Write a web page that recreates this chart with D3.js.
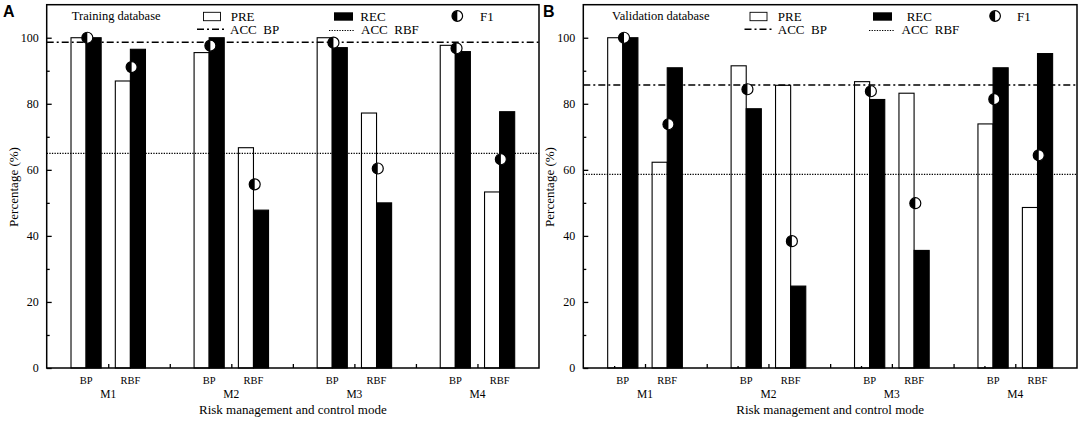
<!DOCTYPE html>
<html>
<head>
<meta charset="utf-8">
<script src="https://cdn.jsdelivr.net/npm/d3@7"></script>
<style>
  body { margin: 0; background: #fff; }
  svg { display: block; }
  text { font-family: "Liberation Serif", "Times New Roman", serif; fill: #000; }
</style>
</head>
<body>
<div id="chart"></div>
<script>
// 資料: 順序為 M1 BP, M1 RBF, M2 BP, M2 RBF, ...
const modes = ["M1", "M2", "M3", "M4"];
const models = ["BP", "RBF"];

const trainPRE = [100, 86.9, 95.5, 66.7, 100, 77.2, 97.7, 53.3];
const trainREC = [100, 96.5, 100, 47.8, 97.0, 50.0, 95.8, 77.6];
const trainF1 = [100, 91.1, 97.6, 55.6, 98.5, 60.4, 96.8, 63.2];
const trainACC = [98.6, 65.0]; // BP, RBF

const validPRE = [100, 62.3, 91.5, 85.6, 86.7, 83.2, 73.9, 48.6];
const validREC = [100, 90.9, 78.5, 24.8, 81.3, 35.6, 90.9, 95.2];
const validF1 = [100, 73.8, 84.4, 38.4, 83.8, 49.9, 81.4, 64.4];
const validACC = [85.7, 58.6];

const yTicks = [0, 20, 40, 60, 80, 100];
const yMinorTicks = [10, 30, 50, 70, 90];

const width = 1084;
const height = 421;

const svg = d3
  .select("#chart")
  .append("svg")
  .attr("width", width)
  .attr("height", height);

svg.append("rect").attr("width", width).attr("height", height).attr("fill", "#fff");

function drawF1Marker(g, cx, cy, r) {
  g.append("circle")
    .attr("cx", cx)
    .attr("cy", cy)
    .attr("r", r)
    .attr("fill", "#fff")
    .attr("stroke", "#000")
    .attr("stroke-width", 1.2);
  g.append("path")
    .attr("d", `M${cx},${cy - r} A${r},${r} 0 0,0 ${cx},${cy + r} Z`)
    .attr("fill", "#000");
}

function drawPanel(cfg) {
  const g = svg.append("g");
  const top = 4.7;
  const bottom = 368;
  const barW = 0.245;
  const off = 0.36;

  const x = d3.scaleLinear().domain([0, 8]).range([cfg.left, cfg.right]);
  const y = d3.scaleLinear().domain([0, 110]).range([bottom, top]);

  // 長條
  modes.forEach((m, mi) => {
    models.forEach((md, ki) => {
      const idx = mi * 2 + ki;
      const c = mi * 2 + 1 + (ki === 0 ? -off : off);
      g.append("rect")
        .attr("x", x(c - barW))
        .attr("y", y(cfg.pre[idx]))
        .attr("width", x(c) - x(c - barW))
        .attr("height", bottom - y(cfg.pre[idx]))
        .attr("fill", "#fff")
        .attr("stroke", "#000")
        .attr("stroke-width", 1.1);
      g.append("rect")
        .attr("x", x(c))
        .attr("y", y(cfg.rec[idx]))
        .attr("width", x(c + barW) - x(c))
        .attr("height", bottom - y(cfg.rec[idx]))
        .attr("fill", "#000")
        .attr("stroke", "#000")
        .attr("stroke-width", 1.1);
    });
  });

  // ACC 線
  g.append("line")
    .attr("x1", cfg.left)
    .attr("x2", cfg.right)
    .attr("y1", y(cfg.acc[0]))
    .attr("y2", y(cfg.acc[0]))
    .attr("stroke", "#000")
    .attr("stroke-width", 1.5)
    .attr("stroke-dasharray", "7,3,2,3");
  g.append("line")
    .attr("x1", cfg.left)
    .attr("x2", cfg.right)
    .attr("y1", y(cfg.acc[1]))
    .attr("y2", y(cfg.acc[1]))
    .attr("stroke", "#000")
    .attr("stroke-width", 1.2)
    .attr("stroke-dasharray", "1.3,1.3");

  // F1
  modes.forEach((m, mi) => {
    models.forEach((md, ki) => {
      const idx = mi * 2 + ki;
      const c = mi * 2 + 1 + (ki === 0 ? -off : off) + 0.02;
      drawF1Marker(g, x(c), y(cfg.f1[idx]), 5.5);
    });
  });

  // 軸
  g.append("g")
    .attr("transform", `translate(${cfg.left},0)`)
    .call(
      d3.axisLeft(y).tickValues(yTicks).tickSizeInner(-5).tickSizeOuter(0).tickPadding(8)
    )
    .call((a) => a.select(".domain").remove())
    .call((a) => a.selectAll("text").style("font-family", "Liberation Serif").style("font-size", "12px").attr("fill", "#000"));

  g.append("g")
    .attr("transform", `translate(${cfg.left},0)`)
    .call(d3.axisLeft(y).tickValues(yMinorTicks).tickSizeInner(-3).tickSizeOuter(0).tickFormat(""))
    .call((a) => a.select(".domain").remove());

  g.append("g")
    .attr("transform", `translate(0,${bottom})`)
    .call(d3.axisBottom(x).tickValues([1, 2, 3, 4, 5, 6, 7]).tickSizeInner(-4).tickSizeOuter(0).tickFormat(""))
    .call((a) => a.select(".domain").remove());

  if (cfg.halfTicks) {
    g.append("g")
      .attr("transform", `translate(0,${bottom})`)
      .call(d3.axisBottom(x).tickValues([0.5, 2.5, 4.5, 6.5]).tickSizeInner(-2).tickSizeOuter(0).tickFormat(""))
      .call((a) => a.select(".domain").remove());
  }

  g.selectAll(".tick line").attr("stroke-width", 1.3);

  // 外框
  g.append("rect")
    .attr("x", cfg.left)
    .attr("y", top)
    .attr("width", cfg.right - cfg.left)
    .attr("height", bottom - top)
    .attr("fill", "none")
    .attr("stroke", "#000")
    .attr("stroke-width", 1.5);

  // x 標籤
  modes.forEach((m, mi) => {
    models.forEach((md, ki) => {
      const c = mi * 2 + 1 + (ki === 0 ? -off : off);
      g.append("text")
        .attr("x", x(c))
        .attr("y", 384)
        .attr("text-anchor", "middle")
        .style("font-size", "10.5px")
        .text(md);
    });
    g.append("text")
      .attr("x", x(mi * 2 + 1))
      .attr("y", 397.5)
      .attr("text-anchor", "middle")
      .style("font-size", "11.5px")
      .text(m);
  });

  g.append("text")
    .attr("x", (cfg.left + cfg.right) / 2)
    .attr("y", 413.5)
    .attr("text-anchor", "middle")
    .style("font-size", "13px")
    .text("Risk management and control mode");

  g.append("text")
    .attr("transform", `translate(${cfg.yLabelX},187) rotate(-90)`)
    .attr("text-anchor", "middle")
    .attr("dy", "0.35em")
    .style("font-size", "13px")
    .text("Percentage (%)");

  g.append("text")
    .attr("x", cfg.letterX)
    .attr("y", 17)
    .style("font-family", "Liberation Sans, Arial, sans-serif")
    .style("font-weight", "bold")
    .style("font-size", "16px")
    .text(cfg.letter);

  // 圖例
  const lg = cfg.legend;
  g.append("text").attr("x", lg.title).attr("y", 20).style("font-size", "12.5px").text(cfg.title);

  g.append("rect")
    .attr("x", lg.pre).attr("y", 12.3).attr("width", 17).attr("height", 8.4)
    .attr("fill", "#fff").attr("stroke", "#000").attr("stroke-width", 0.9);
  g.append("text").attr("x", lg.preText).attr("y", 21).style("font-size", "13px").text("PRE");

  g.append("rect")
    .attr("x", lg.rec).attr("y", 12.3).attr("width", 19).attr("height", 8.4)
    .attr("fill", "#000");
  g.append("text").attr("x", lg.recText).attr("y", 21).style("font-size", "13px").text("REC");

  drawF1Marker(g, lg.f1, 16, 5.3);
  g.append("text").attr("x", lg.f1Text).attr("y", 21).style("font-size", "13px").text("F1");

  g.append("line")
    .attr("x1", lg.accBP).attr("x2", lg.accBP + 28).attr("y1", 29.3).attr("y2", 29.3)
    .attr("stroke", "#000").attr("stroke-width", 1.5).attr("stroke-dasharray", "7,3,2,3");
  g.append("text").attr("x", lg.accBPText).attr("y", 34).style("font-size", "13px").style("white-space", "pre").text("ACC  BP");

  g.append("line")
    .attr("x1", lg.accRBF).attr("x2", lg.accRBF + 26).attr("y1", 30.5).attr("y2", 30.5)
    .attr("stroke", "#000").attr("stroke-width", 1.2).attr("stroke-dasharray", "1.3,1.3");
  g.append("text").attr("x", lg.accRBFText).attr("y", 34).style("font-size", "13px").style("white-space", "pre").text("ACC  RBF");
}

drawPanel({
  left: 46.7,
  right: 539,
  letter: "A",
  letterX: 3,
  yLabelX: 13,
  title: "Training database",
  pre: trainPRE,
  rec: trainREC,
  f1: trainF1,
  acc: trainACC,
  halfTicks: false,
  legend: {
    title: 71.8, pre: 203.5, preText: 230.7, rec: 334, recText: 360.3,
    f1: 457.3, f1Text: 480, accBP: 197, accBPText: 230, accRBF: 329, accRBFText: 361,
  },
});

drawPanel({
  left: 583.3,
  right: 1077,
  letter: "B",
  letterX: 543,
  yLabelX: 549,
  title: "Validation database",
  pre: validPRE,
  rec: validREC,
  f1: validF1,
  acc: validACC,
  halfTicks: true,
  legend: {
    title: 612, pre: 750, preText: 777.8, rec: 873, recText: 906.7,
    f1: 995.1, f1Text: 1017, accBP: 744.5, accBPText: 777.8, accRBF: 869, accRBFText: 901.5,
  },
});
</script>
</body>
</html>
